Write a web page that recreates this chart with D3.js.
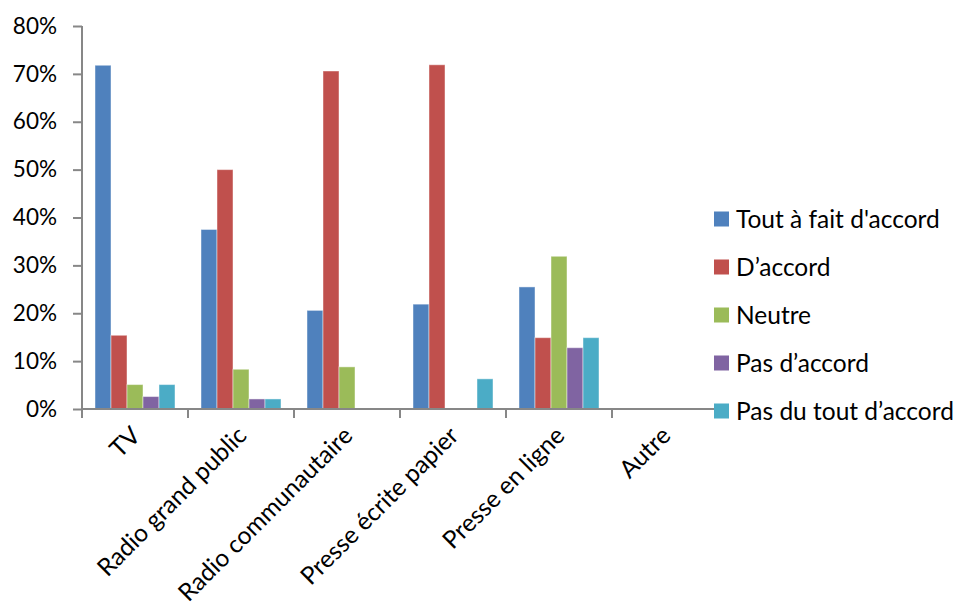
<!DOCTYPE html>
<html><head><meta charset="utf-8">
<script src="https://cdn.jsdelivr.net/npm/d3@7"></script>
<style>body{margin:0;background:#fff}svg{display:block}text{font-family:Lato,"Open Sans",sans-serif;fill:#000}</style>
</head><body><svg id="c" width="960" height="613"></svg>
<script>
const categories = ["TV","Radio grand public","Radio communautaire","Presse écrite papier","Presse en ligne","Autre"];
const seriesNames = ["Tout à fait d'accord","D’accord","Neutre","Pas d’accord","Pas du tout d’accord"];
const seriesColors = ["#4F81BD","#C0504D","#9BBB59","#8064A2","#4BACC6"];
const toutAFait   = [71.8, 37.5, 20.6, 21.9, 25.5, 0];
const dAccord     = [15.4, 50.0, 70.6, 71.9, 14.9, 0];
const neutre      = [5.1, 8.3, 8.8, 0, 31.9, 0];
const pasDAccord  = [2.6, 2.1, 0, 0, 12.8, 0];
const pasDuTout   = [5.1, 2.1, 0, 6.3, 14.9, 0];
const yTicks = [0,10,20,30,40,50,60,70,80];
const seriesValues = [toutAFait, dAccord, neutre, pasDAccord, pasDuTout];

const svg = d3.select("#c");
const mLeft = 82, mRight = 718, mTop = 26, mBottom = 409;
const x0 = d3.scaleBand().domain(categories).range([mLeft, mRight]).paddingInner(0).paddingOuter(0);
const x1 = d3.scaleBand().domain(seriesNames).range([0, x0.bandwidth()]).paddingInner(0).paddingOuter(0.8125);
const y = d3.scaleLinear().domain([0, 80]).range([mBottom, mTop]);
const axisColor = "#878787";

// bars
categories.forEach((cat, ci) => {
  seriesNames.forEach((s, si) => {
    const v = seriesValues[si][ci];
    if (v <= 0) return;
    svg.append("rect")
      .attr("x", x0(cat) + x1(s))
      .attr("y", y(v))
      .attr("width", x1.bandwidth())
      .attr("height", y(0) - y(v))
      .attr("fill", seriesColors[si])
      .attr("stroke", "rgba(255,255,255,0.45)")
      .attr("stroke-width", 1);
  });
});

// y axis
const ya = svg.append("g").attr("transform", `translate(${mLeft},0)`)
  .call(d3.axisLeft(y).tickValues(yTicks).tickSize(9).tickPadding(16).tickFormat(d => d + "%"));
ya.selectAll("path,line").attr("stroke", axisColor).attr("stroke-width", 2);
ya.select(".domain").attr("d", `M0,${mTop}V${mBottom}`);
ya.selectAll("text").attr("font-size", 22.5).attr("font-family", "Lato").attr("fill", "#000");

// x axis
const xa = svg.append("g").attr("transform", `translate(0,${mBottom})`)
  .call(d3.axisBottom(x0).tickSize(0).tickFormat(""));
xa.select(".domain").attr("stroke", axisColor).attr("stroke-width", 2).attr("d", `M${mLeft},0H${mRight}`);
const bounds = categories.map(c => x0(c)).concat([mRight]);
xa.selectAll(".bt").data(bounds).enter().append("line").attr("class","bt")
  .attr("x1", d => d).attr("x2", d => d).attr("y1", 0).attr("y2", 9)
  .attr("stroke", axisColor).attr("stroke-width", 2);

// x labels
svg.append("g").selectAll("text").data(categories).enter().append("text")
  .attr("transform", d => `translate(${x0(d) + x0.bandwidth()/2 + 1},${mBottom + 22}) rotate(-45)`)
  .attr("text-anchor", "end").attr("dy", "0.35em")
  .attr("font-size", 24.5)
  .text(d => d);

// legend
const lg = svg.append("g");
const rowY = [219, 267, 315, 363, 411];
seriesNames.forEach((s, i) => {
  lg.append("rect").attr("x", 714).attr("y", rowY[i] - 7.5).attr("width", 15).attr("height", 15).attr("fill", seriesColors[i]);
  lg.append("text").attr("x", 736).attr("y", rowY[i]).attr("dy", "0.35em").attr("font-size", 24.5).text(s);
});
</script></body></html>
